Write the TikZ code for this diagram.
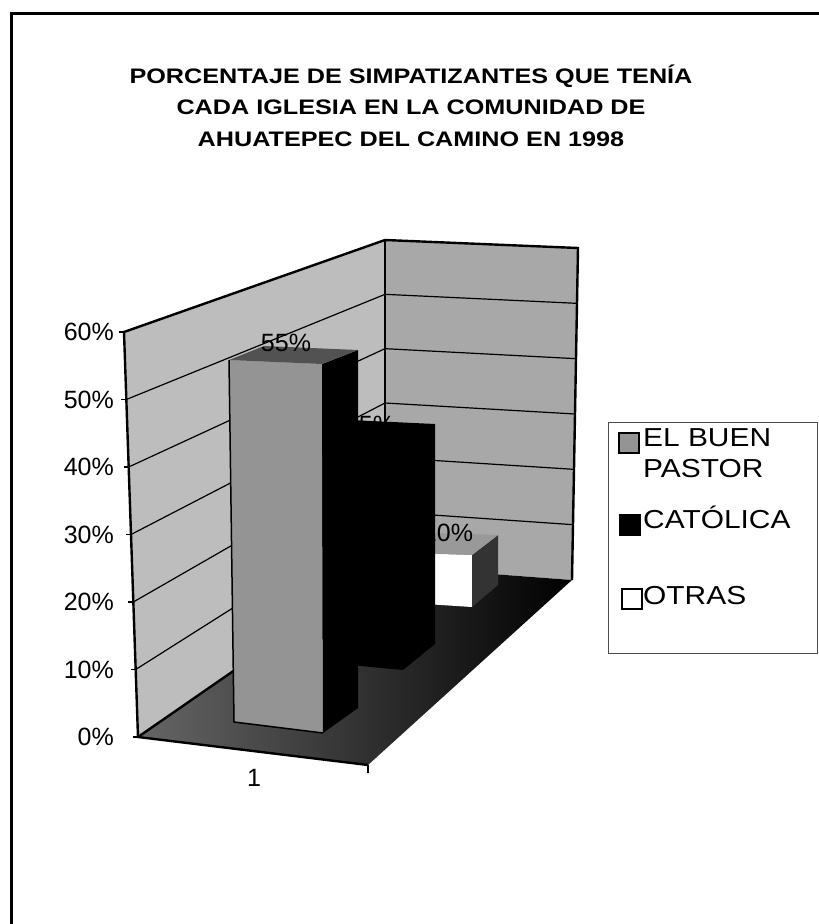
\documentclass[tikz,border=0pt]{standalone}
\usepackage{fontspec}
\setmainfont{Liberation Sans}
\usetikzlibrary{calc}

\newcommand{\titleline}[1]{\scalebox{1.2}[1]{#1}}
\newcommand{\keytext}[1]{\scalebox{1.15}[1]{#1}}

\begin{document}
\begin{tikzpicture}[x=1pt,y=-1pt]

    \tikzset{
      edge/.style={color={black},line width=2.4},
      grid/.style={color={black},line width=1.2},
      pct/.style={anchor=center,inner sep=0pt,font=\fontsize{25}{25}\selectfont},
      title/.style={anchor=center,inner sep=0pt,font=\fontsize{21}{21}\selectfont\bfseries},
      keyfont/.style={anchor=west,inner sep=0pt,font=\fontsize{26}{26}\selectfont},
      swatch/.style={draw,line width=1.6,inner sep=0pt,minimum width=20,minimum height=20},
    }
    \useasboundingbox (0,0) rectangle (819,924);

	% frame and title
	\draw[color={black},line width=3] (11,924)--(11,13)--(819,13);
	\node[title] (title1) at (411,76) {\titleline{PORCENTAJE DE SIMPATIZANTES QUE TENÍA}};
	\node[title] (title2) at (411,107) {\titleline{CADA IGLESIA EN LA COMUNIDAD DE}};
	\node[title] (title3) at (411,139) {\titleline{AHUATEPEC DEL CAMINO EN 1998}};

	% walls and floor
	\coordinate (fb) at (138,737);
	\coordinate (ft) at (124,332);
	\coordinate (cb) at (385,566);
	\coordinate (ct) at (385,240);
	\coordinate (rb) at (572,580);
	\coordinate (rt) at (578,248);
	\coordinate (ff) at (368,765);
	\fill[color={black!26}] (fb)--(ft)--(ct)--(cb)--cycle;
	\fill[color={black!34}] (cb)--(ct)--(rt)--(rb)--cycle;
	\shade[left color=black!60,right color=black] (fb)--(cb)--(rb)--(ff)--cycle;
	\foreach \k in {1,...,5}{
	  \draw[grid] ($(fb)!\k/6!(ft)$)--($(cb)!\k/6!(ct)$)--($(rb)!\k/6!(rt)$);
	}
	\foreach \k in {0,...,6}{
	  \draw[grid] ($(fb)!\k/6!(ft)$)--++(-5,0);
	}
	\draw[edge] (ff)--(fb)--(ft)--(ct)--(rt)--(rb);
	\draw[edge] (ct)--(cb);
	\draw[edge] (fb)--(cb);
	\draw[color={black},line width=1.2] (ff)--++(0,8);

	% OTRAS
	\fill[color={white}] (410,553)--(472,555)--(472,607)--(410,603)--cycle;
	\fill[color={black!80}] (472,555)--(498,535)--(498,585)--(472,607)--cycle;
	\fill[color={black!40}] (410,553)--(472,555)--(498,535)--(436,533)--cycle;
	\node[pct] (pct10) at (448,533) {10\%};

	% CATOLICA
	\fill[color={black}] (318,432)--(350,420)--(435,424)--(435,644)--(403,670)--(318,662)--cycle;
	\node[pct] (pct35) at (370,425) {35\%};

	% EL BUEN PASTOR
	\fill[color={black!42}] (229,360)--(322,364)--(323,733)--(234,722)--cycle;
	\fill[color={black}] (322,364)--(358,350)--(358,708)--(323,733)--cycle;
	\fill[color={black!68}] (229,360)--(322,364)--(358,350)--(264,346)--cycle;
	\draw[color={black},line width=1.5] (229,360)--(234,722)--(323,733);
	\node[pct] (pct55) at (286,343) {55\%};

	% axis labels
	\foreach \v [count=\i from 0] in {0,10,...,60}{
	  \node[pct,anchor=east] (ylab\v) at (114,{737-67.5*\i}) {\v\%};
	}
	\node[pct] (cat1) at (254,778) {1};

	% legend
	\draw[color={black!70},line width=0.8] (608,422) rectangle (817,653);
	\node[swatch,fill=black!42] (keyA) at (629,443) {};
	\node[swatch,fill=black] (keyB) at (630,525) {};
	\node[swatch,fill=white] (keyC) at (632,599) {};
	\node[keyfont] (txtA) at (643,438) {\keytext{EL BUEN}};
	\node[keyfont] (txtA2) at (643,469) {\keytext{PASTOR}};
	\node[keyfont] (txtB) at (643,517) {\keytext{CATÓLICA}};
	\node[keyfont] (txtC) at (643,596) {\keytext{OTRAS}};

\end{tikzpicture}
\end{document}
